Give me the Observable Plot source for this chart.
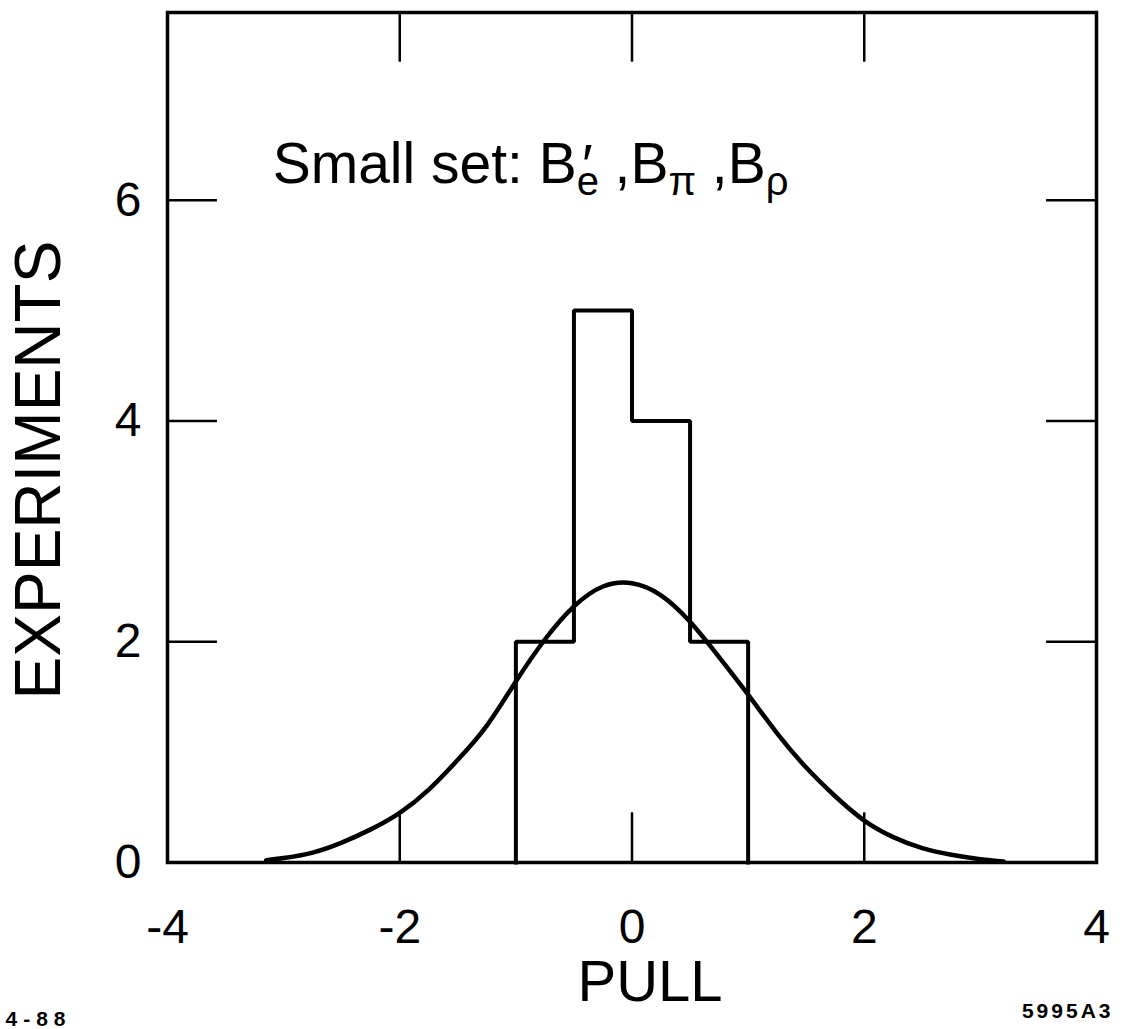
<!DOCTYPE html>
<html><head><meta charset="utf-8">
<script src="https://cdn.jsdelivr.net/npm/d3@7"></script>
<script src="https://cdn.jsdelivr.net/npm/@observablehq/plot@0.6"></script>
<style>body{margin:0;background:#fff}</style>
</head><body><div id="chart"></div>
<script>
// Histogram of pulls
const binEdges = [-1, -0.5, 0, 0.5, 1];
const binCounts = [2, 5, 4, 2];
// Fitted curve
const curvePull = [-3.15, -3.0, -2.75, -2.5, -2.25, -2.0, -1.75, -1.5, -1.25, -1.0, -0.75, -0.5, -0.25, 0.0, 0.25, 0.5, 0.75, 1.0, 1.25, 1.5, 1.75, 2.0, 2.25, 2.5, 2.75, 3.0, 3.2];
const curveExperiments = [0.02, 0.04, 0.09, 0.18, 0.30, 0.45, 0.66, 0.93, 1.24, 1.64, 2.02, 2.32, 2.50, 2.53, 2.42, 2.18, 1.86, 1.52, 1.17, 0.86, 0.60, 0.38, 0.23, 0.13, 0.07, 0.03, 0.01];
// Axes
const xTicks = [-4, -2, 0, 2, 4];
const yTicks = [0, 2, 4, 6];
const innerTicksX = [-2, 0, 2];
const innerTicksY = [2, 4, 6];
const xDomain = [-4, 4];
const yDomain = [0, 7.7];
const xLabel = "PULL";
const yLabel = "EXPERIMENTS";
const noteLeft = "4-88";
const noteRight = "5995A3";

const font = "'Liberation Sans', Arial, Helvetica, sans-serif";

const outline = [];
binCounts.forEach((c, i) => {
  const prev = i === 0 ? 0 : binCounts[i - 1];
  outline.push({x: binEdges[i], y: prev}, {x: binEdges[i], y: c});
});
outline.push({x: binEdges[binEdges.length - 1], y: binCounts[binCounts.length - 1]});
outline.push({x: binEdges[binEdges.length - 1], y: 0});

const curve = curvePull.map((x, i) => ({x, y: curveExperiments[i]}));

const tLenY = 0.45;  // tick length in y units
const tLenX = 0.43;  // tick length in x units

const plot = Plot.plot({
  width: 1126,
  height: 1029,
  marginLeft: 167,
  marginRight: 30,
  marginTop: 12,
  marginBottom: 167,
  style: {fontFamily: font, background: "#fff", color: "#000"},
  x: {domain: xDomain, label: null},
  y: {domain: yDomain, label: null},
  marks: [
    Plot.ruleX(innerTicksX, {y1: yDomain[0], y2: yDomain[0] + tLenY, strokeWidth: 2.5}),
    Plot.ruleX(innerTicksX, {y1: yDomain[1] - tLenY, y2: yDomain[1], strokeWidth: 2.5}),
    Plot.ruleY(innerTicksY, {x1: xDomain[0], x2: xDomain[0] + tLenX, strokeWidth: 2.5}),
    Plot.ruleY(innerTicksY, {x1: xDomain[1] - tLenX, x2: xDomain[1], strokeWidth: 2.5}),
    Plot.line(outline, {x: "x", y: "y", stroke: "#000", strokeWidth: 4, strokeLinejoin: "miter", strokeLinecap: "square"}),
    Plot.line(curve, {x: "x", y: "y", stroke: "#000", strokeWidth: 4.5, curve: "natural"}),
    Plot.frame({stroke: "#000", strokeWidth: 3.5}),
    Plot.axisX(xTicks, {tickSize: 0, tickPadding: 46, fontSize: 48, tickFormat: d => String(d), fontFamily: font}),
    Plot.axisY(yTicks, {tickSize: 0, tickPadding: 26, fontSize: 48, tickFormat: d => String(d), fontFamily: font}),
    Plot.text([xLabel], {frameAnchor: "bottom", dx: 18, dy: 120, fontSize: 58, lineAnchor: "middle", fontFamily: font}),
    Plot.text([noteLeft], {frameAnchor: "bottom-left", textAnchor: "start", dx: -162, dy: 157, fontSize: 21, fontWeight: "bold", lineAnchor: "middle", fontFamily: font}),
    Plot.text([noteRight], {frameAnchor: "bottom-right", textAnchor: "end", dx: 17, dy: 149, fontSize: 21, fontWeight: "bold", lineAnchor: "middle", fontFamily: font})
  ]
});
document.getElementById("chart").appendChild(plot);

// spacing for the small code labels
d3.select(plot).selectAll("text").filter(function() { return this.textContent === noteRight; })
  .attr("letter-spacing", "3px");
d3.select(plot).selectAll("text").filter(function() { return this.textContent === noteLeft; })
  .attr("letter-spacing", "6px");

const sx = plot.scale("x"), sy = plot.scale("y");

// rotated y-axis title, centred relative to the frame
const yMid = (sy.apply(yDomain[0]) + sy.apply(yDomain[1])) / 2;
d3.select(plot).append("text")
  .attr("transform", `translate(${sx.apply(xDomain[0]) - 129},${yMid + 33}) rotate(-90)`)
  .attr("text-anchor", "middle")
  .attr("dy", "0.35em")
  .attr("font-family", font)
  .attr("font-size", 64)
  .attr("fill", "#000")
  .text(yLabel);

// annotation with sub/superscripts, positioned through the plot's scales
const t = d3.select(plot).append("text")
  .attr("x", sx.apply(-3.09))
  .attr("y", sy.apply(6.15))
  .attr("text-anchor", "start")
  .attr("font-family", font)
  .attr("font-size", 57)
  .attr("fill", "#000");
t.append("tspan").text("Small set: B");
t.append("tspan").attr("dy", 12).attr("font-size", 40).text("e");
t.append("tspan").attr("dx", -17).attr("dy", -10).attr("font-size", 57).text("\u2032");
t.append("tspan").attr("dx", 6).attr("dy", -2).text(" ,B");
t.append("tspan").attr("dy", 12).attr("font-size", 40).text("\u03c0");
t.append("tspan").attr("dy", -12).text(" ,B");
t.append("tspan").attr("dy", 12).attr("font-size", 40).text("\u03c1");
</script>
</body></html>
